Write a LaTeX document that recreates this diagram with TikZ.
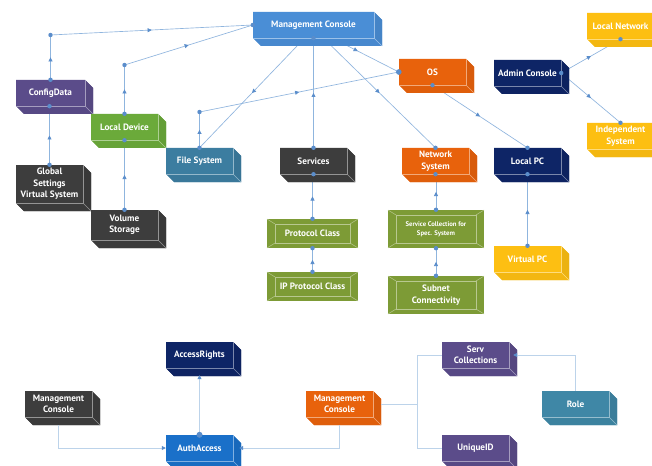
\documentclass[tikz,border=0pt]{standalone}
\usepackage{fontspec}
\setmainfont{PT Sans}
\usetikzlibrary{arrows.meta,decorations.markings,calc}
\definecolor{mcblue}{HTML}{4A8ED6}
\definecolor{orangeC}{HTML}{E8620C}
\definecolor{navyC}{HTML}{0E2566}
\definecolor{yellowC}{HTML}{FDBF12}
\definecolor{purpleC}{HTML}{5B4C8A}
\definecolor{greenC}{HTML}{6BAA3A}
\definecolor{tealC}{HTML}{3C7DA0}
\definecolor{roleC}{HTML}{3F87A6}
\definecolor{darkC}{HTML}{3D3D3D}
\definecolor{oliveC}{HTML}{7D9B36}
\definecolor{authC}{HTML}{1A70C9}
\definecolor{lineblue}{HTML}{8FB5DE}
\definecolor{dotblue}{HTML}{5A8DCB}
\definecolor{softblue}{HTML}{BCD3EA}
\pgfdeclarelayer{bg}
\pgfdeclarelayer{lines}
\pgfdeclarelayer{front}
\pgfsetlayers{bg,lines,main,front}
\tikzset{
  boxtext/.style={inner sep=0pt, text=white, align=center, font=\bfseries\fontsize{9.2}{11.5}\selectfont},
  conn/.style={draw=lineblue, line width=0.65pt},
  midarrow/.style={postaction={decorate}, decoration={markings, mark=at position #1 with {\arrow[dotblue]{Triangle[length=4pt,width=4pt]}}}},
  midarrow/.default=0.5,
  dotc/.style={fill=dotblue},
  soft/.style={draw=softblue, line width=0.8pt},
  softtip/.style={-{Triangle[length=4pt,width=4pt,color=dotblue]}},
}
% 3D box: name, x0, y0, x1, y1, colour, text
\newcommand\tdbox[7]{%
  \fill[#6] (#2,#3) -- ({#4-8},#3) -- (#4,{#3+8}) -- (#4,#5) -- ({#2+8},#5) -- (#2,{#5-8}) -- cycle;
  \fill[#6!93!black] ({#4-8},#3) -- (#4,{#3+8}) -- (#4,#5) -- ({#4-8},{#5-8}) -- cycle;
  \fill[#6!96!black] (#2,{#5-8}) -- ({#4-8},{#5-8}) -- (#4,#5) -- ({#2+8},#5) -- cycle;
  \draw[#6!55!white, line width=0.5pt] (#2,{#5-8}) -- ({#4-8},{#5-8}) -- ({#4-8},#3);
  \draw[#6!55!white, line width=0.5pt] ({#4-8},{#5-8}) -- (#4,#5);
  \node[boxtext, minimum width={(#4-#2-8)*1pt}, minimum height={(#5-#3-8)*1pt}] (#1) at ({(#2+#4-8)/2},{(#3+#5-8)/2}) {#7};
}
% bevel box: [node options] name, x0, y0, x1, y1 ; text in \bevtext
\newcommand\bevelbox[6][]{%
  \fill[oliveC] (#3,#4) rectangle (#5,#6);
  \draw[oliveC!55!white, line width=0.5pt] ({#3+8},{#4+5}) rectangle ({#5-8},{#6-5});
  \draw[oliveC!55!white, line width=0.5pt] (#3,#4) -- ({#3+8},{#4+5}) (#5,#4) -- ({#5-8},{#4+5}) (#5,#6) -- ({#5-8},{#6-5}) (#3,#6) -- ({#3+8},{#6-5});
  \node[boxtext, minimum width={(#5-#3)*1pt}, minimum height={(#6-#4)*1pt}, #1] (#2) at ({(#3+#5)/2},{(#4+#6)/2}) {\bevtext};
}
\begin{document}
\begin{tikzpicture}[x=1pt,y=-1pt]
\begin{pgfonlayer}{bg}
\fill[white] (0,0) rectangle (652,465);
\end{pgfonlayer}
\clip (0,0) rectangle (652,465);
% boxes
\tdbox{mc}{253}{12}{382}{46}{mcblue}{Management Console}
\tdbox{os}{399}{59}{474}{93}{orangeC}{OS}
\tdbox{ac}{494}{60}{569}{94}{navyC}{Admin Console}
\tdbox{ln}{587}{13}{662}{47}{yellowC}{Local Network}
\tdbox{ind}{587}{123}{662}{157}{yellowC}{Independent\\System}
\tdbox{cfg}{16}{80}{93}{114}{purpleC}{ConfigData}
\tdbox{ld}{91}{114}{166}{148}{greenC}{Local Device}
\tdbox{fs}{166}{148}{241}{182}{tealC}{File System}
\tdbox{sv}{280}{148}{355}{182}{darkC}{Services}
\tdbox{ns}{402}{148}{477}{182}{orangeC}{Network\\System}
\tdbox{lpc}{494}{148}{569}{182}{navyC}{Local PC}
\tdbox{glob}{16}{165}{91}{211}{darkC}{Global\\Settings\\Virtual System}
\tdbox{vs}{91}{210}{166}{248}{darkC}{Volume\\Storage}
\def\bevtext{Protocol Class}
\bevelbox{pc}{267}{219}{358}{248}
\def\bevtext{IP Protocol Class}
\bevelbox{ippc}{267}{272}{358}{301}
\def\bevtext{Service Collection for\\Spec. System}
\bevelbox[font=\bfseries\fontsize{6.7}{9}\selectfont]{scs}{388}{210}{484}{248}
\def\bevtext{Subnet\\Connectivity}
\bevelbox{sub}{388}{276}{484}{314}
\tdbox{vpc}{494}{246}{569}{280}{yellowC}{Virtual PC}
\tdbox{ar}{166}{342}{241}{376}{navyC}{AccessRights}
\tdbox{mcd}{25}{391}{100}{425}{darkC}{Management\\Console}
\tdbox{aa}{166}{435}{241}{469}{authC}{AuthAccess}
\tdbox{mco}{306}{391}{381}{425}{orangeC}{Management\\Console}
\tdbox{sc}{442}{342}{517}{376}{purpleC}{Serv\\Collections}
\tdbox{role}{542}{391}{617}{425}{roleC}{Role}
\tdbox{uid}{442}{435}{517}{469}{purpleC}{UniqueID}
% junction points
\coordinate (c1) at (50.5,35);
\coordinate (c2) at (124.5,65);
\coordinate (c3) at (199.5,112);
\coordinate (jn) at (417,404);
% top connectors
\begin{pgfonlayer}{lines}
\draw[conn,midarrow] (cfg.north) -- (c1);
\draw[conn,midarrow] (c1) -- (mc.west);
\draw[conn,midarrow] (ld.north) -- (c2);
\draw[conn,midarrow] (c2) -- (mc.west);
\draw[conn,midarrow] (fs.north) -- (c3);
\draw[conn,midarrow] (c3) -- (os.west);
\draw[conn,midarrow] ([xshift=-9pt]mc.south) -- (fs.north);
\draw[conn,midarrow] (sv.north) -- (mc.south);
\draw[conn,midarrow] ([xshift=10pt]mc.south) -- (ns.north);
\draw[conn,midarrow=0.38] ([xshift=19pt]mc.south) -- (os.west);
\draw[conn,midarrow] (os.south) -- (lpc.north);
\draw[conn,midarrow] (ac.east) -- (ln.south);
\draw[conn,midarrow] (ac.east) -- (ind.north);
\draw[conn,midarrow] (glob.north) -- (glob.north |- cfg.south);
\draw[conn,midarrow] (vs.north) -- (ld.south);
\draw[conn,midarrow] (pc.north) -- (pc.north |- sv.south);
\draw[conn,midarrow] (ippc.north) -- (pc.south);
\draw[conn,midarrow] (scs.north) -- (scs.north |- ns.south);
\draw[conn,midarrow] (sub.north) -- (scs.south);
\draw[conn,midarrow] (vpc.north) -- (lpc.south);
\end{pgfonlayer}
\begin{pgfonlayer}{front}
\foreach \p in {mc.west,c1,c2,c3,cfg.north,ld.north,ld.south,fs.north,mc.south,sv.north,sv.south,pc.north,pc.south,ippc.north,os.south,ns.north,ns.south,scs.north,scs.south,sub.north,lpc.north,lpc.south,vpc.north,ac.east,ln.south,ind.north,glob.north,vs.north}
  \fill[dotc] (\p) circle (2.2pt);
\fill[dotc] (glob.north |- cfg.south) circle (2.2pt);
\fill[dotc] (os.west) circle (2.8pt);
% bottom connectors
\draw[soft,softtip] ([yshift=-8pt]mcd.south) -- (mcd.south |- aa.west) -- (aa.west);
\draw[soft,softtip] ([yshift=-8pt]mco.south) -- (mco.south |- aa.east) -- ([xshift=6pt]aa.east);
\draw[soft,softtip] (aa.north) -- ([yshift=-7pt]ar.south);
\fill[dotc] (aa.north) circle (3pt);
\draw[soft] ([xshift=8pt]mco.east) -- (jn);
\draw[soft] (jn) |- (sc.west);
\draw[soft] (jn) |- (uid.west);
\draw[soft,softtip] (role.north) |- ([xshift=4pt]sc.east);
\end{pgfonlayer}
\end{tikzpicture}
\end{document}
